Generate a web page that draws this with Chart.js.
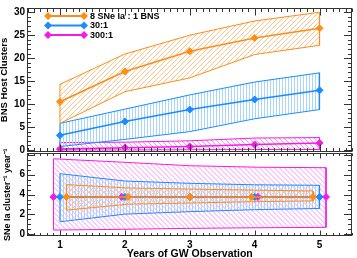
<!DOCTYPE html>
<html>
<head>
<meta charset="utf-8">
<script src="https://cdn.jsdelivr.net/npm/chart.js@4"></script>
<style>
  html, body { margin: 0; padding: 0; background: #fff; }
  #wrap { position: relative; width: 357px; height: 258px; overflow: hidden; }
  #topChart { position: absolute; left: 0; top: 0; }
  #rateChart { position: absolute; left: 0; top: 145px; }
</style>
</head>
<body>
<div id="wrap">
  <canvas id="topChart" width="357" height="160" style="width:357px;height:160px"></canvas>
  <canvas id="rateChart" width="357" height="113" style="width:357px;height:113px"></canvas>
</div>
<script>
/* ================================
   Data
=================================*/
const seriesNames = ['8 SNe Ia : 1 BNS', '30:1', '300:1'];
const years = [1, 2, 3, 4, 5];
const xTicks = [1, 2, 3, 4, 5];
const topTicks = [0, 5, 10, 15, 20, 25, 30];
const rateTicks = [0, 2, 4, 6];

// upper panel: BNS host clusters
const orangeMid = [10.5, 17.1, 21.5, 24.4, 26.5];
const orangeHi  = [14.3, 20.9, 25.0, 28.1, 30.0];
const orangeLo  = [5.8, 12.7, 15.7, 20.8, 22.8];
const blueMid = [3.2, 6.2, 8.8, 11.0, 13.0];
const blueHi  = [5.8, 8.9, 12.0, 14.8, 16.8];
const blueLo  = [0.75, 2.3, 4.0, 6.8, 8.8];
const pinkMid = [0.2, 0.5, 0.75, 1.2, 1.5];
const pinkHi  = [1.6, 1.7, 2.0, 2.6, 2.7];
const pinkLo  = [0, 0, 0.05, 0.1, 0.1];

// lower panel: SNe Ia cluster^-1 year^-1 (points nudged in x)
const orangeRateX = [1.1, 2.05, 3, 3.95, 4.9];
const blueRateX   = [1, 2, 3, 4, 5];
const pinkRateX   = [0.9, 1.95, 3, 4.05, 5.1];
const orangeRate   = [3.76, 3.76, 3.76, 3.76, 3.76];
const orangeRateHi = [5.0, 4.66, 4.55, 4.45, 4.36];
const orangeRateLo = [2.43, 3.03, 3.15, 3.28, 3.36];
const blueRate   = [3.76, 3.76, 3.76, 3.76, 3.76];
const blueRateHi = [6.1, 5.36, 5.13, 4.98, 4.93];
const blueRateLo = [1.26, 2.03, 2.28, 2.48, 2.6];
const pinkRate   = [3.76, 3.76, 3.76, 3.76, 3.76];
const pinkRateHi = [7.6, 7.26, 6.9, 6.75, 6.7];
const pinkRateLo = [0.43, 0.5, 0.6, 0.66, 0.7];

/* ================================
   Colours / helpers
=================================*/
const ORANGE = '#ff8c14', BLUE = '#1a8cff', PINK = '#f51be6';
const ORANGE_L = '#ffc48c', BLUE_L = '#a8d5ff', PINK_L = '#f796f2';
const seriesColors = [ORANGE, BLUE, PINK];

Chart.defaults.font.family = "'Liberation Sans', Arial, Helvetica, sans-serif";
Chart.defaults.font.weight = 'bold';
Chart.defaults.font.size = 10;
Chart.defaults.color = '#000';
Chart.defaults.animation = false;

// closed outline: upper edge, then lower edge backwards
function polygon(xs, hi, lo) {
  const pts = xs.map((x, i) => ({ x, y: hi[i] }));
  for (let i = xs.length - 1; i >= 0; i--) pts.push({ x: xs[i], y: lo[i] });
  pts.push(pts[0]);
  return pts;
}

function bandSet(xs, hi, lo, color, hatchColor, kind) {
  return {
    data: polygon(xs, hi, lo),
    borderColor: color, borderWidth: 1,
    fill: false, pointRadius: 0, tension: 0,
    hatch: { color: hatchColor, kind, gap: kind === 'v' ? 3 : 5 }
  };
}

function midSet(xs, ys, color) {
  return {
    data: xs.map((x, i) => ({ x, y: ys[i] })),
    borderColor: color, backgroundColor: color, borderWidth: 1.5,
    pointStyle: 'rectRot', pointRadius: 3.5, pointBorderWidth: 1,
    pointBorderColor: color, fill: false, tension: 0
  };
}

/* ================================
   Hatching inside each band outline
=================================*/
const hatcher = {
  id: 'hatcher',
  beforeDatasetDraw(chart, args) {
    const ds = chart.data.datasets[args.index];
    if (!ds.hatch) return;
    const { ctx, chartArea: a } = chart;
    const pts = args.meta.data;
    const { color, kind, gap } = ds.hatch;
    ctx.save();
    ctx.beginPath();
    pts.forEach((p, i) => (i ? ctx.lineTo(p.x, p.y) : ctx.moveTo(p.x, p.y)));
    ctx.closePath();
    ctx.clip();
    ctx.strokeStyle = color;
    ctx.lineWidth = 1;
    ctx.beginPath();
    const h = a.bottom - a.top;
    if (kind === 'v') {
      for (let x = Math.floor(a.left) + 0.5; x < a.right; x += gap) {
        ctx.moveTo(x, a.top); ctx.lineTo(x, a.bottom);
      }
    } else {
      for (let x = a.left - h; x < a.right + h; x += gap) {
        if (kind === '/') { ctx.moveTo(x, a.bottom); ctx.lineTo(x + h, a.top); }
        else { ctx.moveTo(x, a.top); ctx.lineTo(x + h, a.bottom); }
      }
    }
    ctx.stroke();
    ctx.restore();
  }
};

/* ================================
   Frame with inward ticks on all four sides
=================================*/
const frame = {
  id: 'frame',
  afterDraw(chart, args, o) {
    const { ctx, chartArea: a, scales: { x, y } } = chart;
    const L = Math.round(a.left) - 0.5, R = Math.round(a.right) - 0.5;
    const T = Math.round(a.top) - 0.5, B = Math.round(a.bottom) - 0.5;
    ctx.save();
    ctx.strokeStyle = '#333';
    ctx.lineWidth = 1;
    ctx.strokeRect(L, T, R - L, B - T);
    ctx.beginPath();
    for (let i = Math.ceil(x.min / 0.1); i <= Math.floor(x.max / 0.1 + 1e-6); i++) {
      const px = Math.round(x.getPixelForValue(i * 0.1)) + 0.5;
      const len = i % 10 === 0 ? o.xMajor : o.xMinor;
      ctx.moveTo(px, B); ctx.lineTo(px, B - len);
      ctx.moveTo(px, T); ctx.lineTo(px, T + len);
    }
    for (let i = Math.ceil(y.min / o.yStep); i <= Math.floor(y.max / o.yStep); i++) {
      const py = Math.round(y.getPixelForValue(i * o.yStep)) + 0.5;
      const len = i % o.yEvery === 0 ? 7.5 : 3.5;
      ctx.moveTo(L, py); ctx.lineTo(L + len, py);
      ctx.moveTo(R, py); ctx.lineTo(R - len, py);
    }
    ctx.stroke();
    ctx.restore();
  }
};

// legend: line with a diamond at each end
const keyBox = {
  id: 'keyBox',
  afterDraw(chart) {
    const ctx = chart.ctx;
    ctx.save();
    seriesNames.forEach((name, i) => {
      const y = 16 + i * 9.5;
      ctx.strokeStyle = seriesColors[i];
      ctx.fillStyle = seriesColors[i];
      ctx.lineWidth = 2;
      ctx.beginPath(); ctx.moveTo(48, y); ctx.lineTo(84, y); ctx.stroke();
      [48, 84].forEach(px => {
        ctx.beginPath();
        ctx.moveTo(px, y - 4); ctx.lineTo(px + 4, y); ctx.lineTo(px, y + 4); ctx.lineTo(px - 4, y);
        ctx.closePath(); ctx.fill();
      });
      ctx.fillStyle = '#000';
      ctx.font = "bold 9px 'Liberation Sans', Arial, sans-serif";
      ctx.textBaseline = 'middle';
      ctx.fillText(name, 90, y + 0.5);
    });
    ctx.restore();
  }
};

const fixWidth = s => { s.width = 27.5; };

/* ================================
   Upper panel
=================================*/
new Chart(document.getElementById('topChart'), {
  type: 'line',
  data: {
    datasets: [
      midSet(years, orangeMid, ORANGE),
      midSet(years, blueMid, BLUE),
      midSet(years, pinkMid, PINK),
      bandSet(years, orangeHi, orangeLo, ORANGE, ORANGE_L, '/'),
      bandSet(years, blueHi, blueLo, BLUE, BLUE_L, 'v'),
      bandSet(years, pinkHi, pinkLo, PINK, PINK_L, '\\')
    ]
  },
  options: {
    responsive: false,
    devicePixelRatio: 1,
    layout: { padding: { top: 1, bottom: 7, left: 0, right: 1 } },
    plugins: {
      legend: { display: false },
      tooltip: { enabled: false },
      frame: { xMajor: 7, xMinor: 3.5, yStep: 1, yEvery: 5 }
    },
    scales: {
      x: { type: 'linear', min: 0.5, max: 5.5, display: false },
      y: {
        min: -0.33, max: 30.82,
        afterFit: fixWidth,
        afterBuildTicks: s => { s.ticks = topTicks.map(v => ({ value: v })); },
        grid: { display: false, drawTicks: false },
        border: { display: false },
        ticks: { padding: 2.5, font: { size: 10 } },
        title: { display: true, text: 'BNS Host Clusters', font: { size: 9.5, lineHeight: 1 }, padding: 0 }
      }
    }
  },
  plugins: [hatcher, frame, keyBox]
});

/* ================================
   Lower panel
=================================*/
new Chart(document.getElementById('rateChart'), {
  type: 'line',
  data: {
    datasets: [
      midSet(orangeRateX, orangeRate, ORANGE),
      midSet(blueRateX, blueRate, BLUE),
      midSet(pinkRateX, pinkRate, PINK),
      bandSet(orangeRateX, orangeRateHi, orangeRateLo, ORANGE, ORANGE_L, '/'),
      bandSet(blueRateX, blueRateHi, blueRateLo, BLUE, BLUE_L, 'v'),
      bandSet(pinkRateX, pinkRateHi, pinkRateLo, PINK, PINK_L, '\\')
    ]
  },
  options: {
    responsive: false,
    devicePixelRatio: 1,
    layout: { padding: { top: 8, bottom: 0, left: 0, right: 1 } },
    plugins: {
      legend: { display: false },
      tooltip: { enabled: false },
      frame: { xMajor: 5, xMinor: 2.5, yStep: 0.5, yEvery: 4 }
    },
    scales: {
      x: {
        type: 'linear', min: 0.5, max: 5.5,
        afterFit: s => { s.height = 22; },
        afterBuildTicks: s => { s.ticks = xTicks.map(v => ({ value: v })); },
        grid: { display: false, drawTicks: false },
        border: { display: false },
        ticks: { padding: 3, maxRotation: 0, autoSkip: false, font: { size: 10 } },
        title: { display: true, text: 'Years of GW Observation', font: { size: 10.5, lineHeight: 0.8 }, padding: 0 }
      },
      y: {
        min: -0.17, max: 8.13,
        afterFit: fixWidth,
        afterBuildTicks: s => { s.ticks = rateTicks.map(v => ({ value: v })); },
        grid: { display: false, drawTicks: false },
        border: { display: false },
        ticks: { padding: 2.5, font: { size: 10 } },
        title: { display: true, text: 'SNe Ia cluster⁻¹ year⁻¹', font: { size: 9, lineHeight: 1 }, padding: { top: 3 } }
      }
    }
  },
  plugins: [hatcher, frame]
});
</script>
</body>
</html>
